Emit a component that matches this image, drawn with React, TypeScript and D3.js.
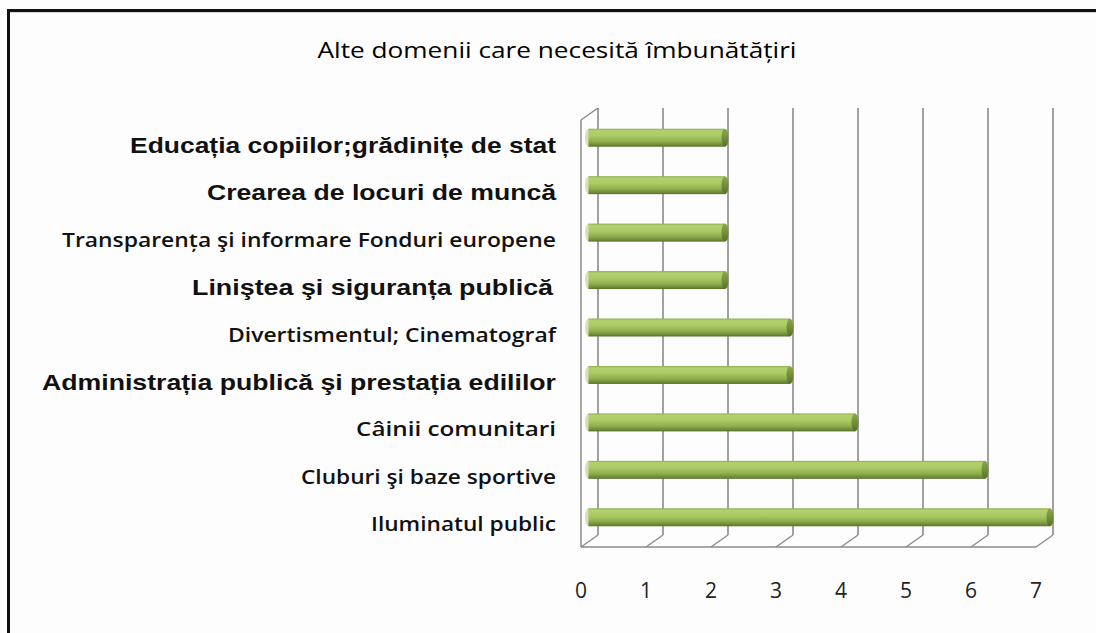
import React from "react";
import * as d3 from "d3";

const TITLE = "Alte domenii care necesită îmbunătățiri";
const categories = [
  "Educația copiilor;grădinițe de stat",
  "Crearea de locuri de muncă",
  "Transparența şi informare Fonduri europene",
  "Liniştea şi siguranța publică",
  "Divertismentul; Cinematograf",
  "Administrația publică şi prestația edililor",
  "Câinii comunitari",
  "Cluburi şi baze sportive",
  "Iluminatul public",
];
const values = [2, 2, 2, 2, 3, 3, 4, 6, 7];
const boldArial = [true, true, false, true, false, true, false, false, false];
const labelWidths = [426, 349, 494, 361, 328, 514, 200, 255, 185];
const ticks = [0, 1, 2, 3, 4, 5, 6, 7];

const W = 1096;
const H = 633;
const DX = 17; // depth offset x
const DY = -12; // depth offset y

export default function App() {
  const x = d3.scaleLinear().domain([0, 7]).range([581, 1036]);
  const y = d3.scaleBand<string>().domain(categories).range([120, 547]);
  const top = 120;
  const bottom = 547;
  const barH = 18;
  const gridColor = "#8a8a8a";

  return (
    <svg
      width={W}
      height={H}
      style={{ position: "absolute", left: 0, top: 0, background: "#fdfdfd" }}
      xmlns="http://www.w3.org/2000/svg"
    >
      <defs>
        <linearGradient id="cyl" x1="0" y1="0" x2="0" y2="1">
          <stop offset="0%" stopColor="#8fae52" />
          <stop offset="12%" stopColor="#b3d270" />
          <stop offset="40%" stopColor="#a9ca64" />
          <stop offset="70%" stopColor="#8fb04d" />
          <stop offset="88%" stopColor="#718f3a" />
          <stop offset="100%" stopColor="#56722a" />
        </linearGradient>
        <linearGradient id="cap" x1="0" y1="0" x2="0" y2="1">
          <stop offset="0%" stopColor="#8aa84d" />
          <stop offset="50%" stopColor="#738f3c" />
          <stop offset="100%" stopColor="#566f2b" />
        </linearGradient>
      </defs>

      {/* frame */}
      <rect x={8.5} y={10.5} width={1200} height={800} fill="none" stroke="#111" strokeWidth={3} />
      <line x1={10} x2={1096} y1={12.5} y2={12.5} stroke="#d8d8d8" strokeWidth={1} />

      {/* title */}
      <text
        x={557}
        y={58}
        textAnchor="middle"
        fontFamily="'Open Sans', 'Noto Sans', sans-serif"
        fontSize={22}
        fontWeight={500}
        fill="#000"
        textLength={479}
        lengthAdjust="spacingAndGlyphs"
      >
        {TITLE}
      </text>

      {/* left wall */}
      <line x1={x(0)} x2={x(0)} y1={top} y2={bottom} stroke={gridColor} strokeWidth={1.5} />
      <line x1={x(0)} x2={x(0) + DX} y1={top} y2={top + DY} stroke={gridColor} strokeWidth={1.5} />

      {/* back wall gridlines */}
      {ticks.map((t) => (
        <line
          key={"g" + t}
          x1={x(t) + DX}
          x2={x(t) + DX}
          y1={top + DY}
          y2={bottom + DY}
          stroke={gridColor}
          strokeWidth={1.6}
        />
      ))}

      {/* floor */}
      <line x1={x(0)} x2={x(7)} y1={bottom} y2={bottom} stroke={gridColor} strokeWidth={1.6} />
      {ticks.map((t) => (
        <line
          key={"f" + t}
          x1={x(t)}
          x2={x(t) + DX}
          y1={bottom}
          y2={bottom + DY}
          stroke={gridColor}
          strokeWidth={1.4}
        />
      ))}

      {/* bars */}
      {categories.map((c, i) => {
        const cy = (y(c) as number) + y.bandwidth() / 2 + DY / 2;
        const x0 = x(0) + DX / 2 - 1;
        const x1 = x(values[i]) + DX - 3;
        const rx = 3.5;
        return (
          <g key={"b" + i}>
            <ellipse cx={x0} cy={cy} rx={rx} ry={barH / 2} fill="#c9dca0" opacity={0.8} />
            <rect x={x0} y={cy - barH / 2} width={x1 - x0} height={barH} fill="url(#cyl)" />
            <ellipse cx={x1} cy={cy} rx={rx} ry={barH / 2} fill="url(#cap)" />
          </g>
        );
      })}

      {/* category labels */}
      {categories.map((c, i) => {
        const cy = (y(c) as number) + y.bandwidth() / 2;
        const arial = boldArial[i];
        return (
          <text
            key={"l" + i}
            x={arial && i === 3 ? 553 : 556}
            y={cy + (arial ? 9 : 8)}
            textAnchor="end"
            fontFamily={arial ? "'Liberation Sans', Arial, sans-serif" : "'Open Sans', 'Noto Sans', sans-serif"}
            fontWeight={arial ? 700 : 600}
            fontSize={arial ? 22 : 19}
            fill="#111"
            textLength={labelWidths[i]}
            lengthAdjust="spacingAndGlyphs"
          >
            {c}
          </text>
        );
      })}

      {/* tick labels */}
      {ticks.map((t) => (
        <text
          key={"t" + t}
          x={x(t)}
          y={598}
          textAnchor="middle"
          fontFamily="'Open Sans', 'Noto Sans', sans-serif"
          fontSize={21}
          fill="#222"
        >
          {t}
        </text>
      ))}
    </svg>
  );
}
